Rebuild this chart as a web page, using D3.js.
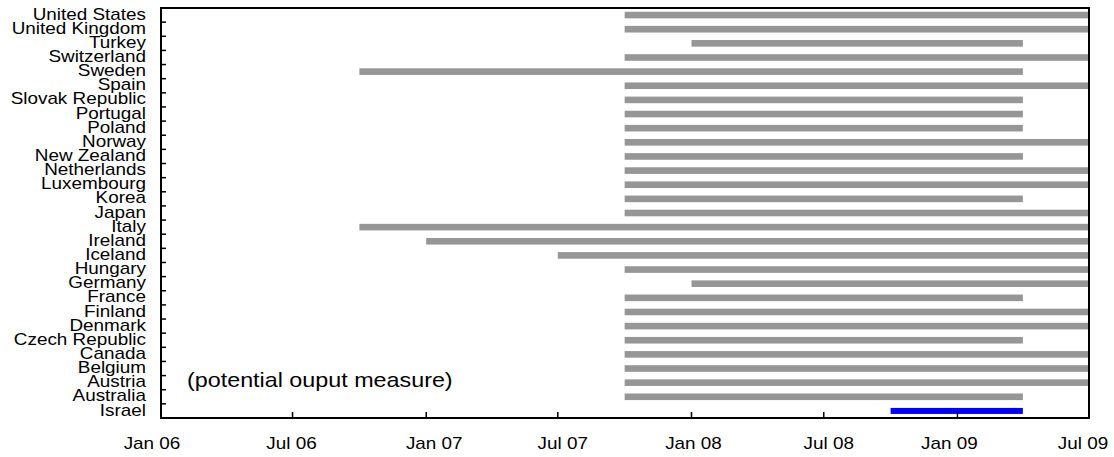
<!DOCTYPE html>
<html>
<head>
<meta charset="utf-8">
<script src="https://cdn.jsdelivr.net/npm/d3@7"></script>
<style>
  body { margin: 0; background: #fff; }
  text { font-family: "Liberation Sans", Arial, sans-serif; fill: #000; }
</style>
</head>
<body>
<svg id="chart" width="1114" height="457"></svg>
<script>
// countries top to bottom
var countries = ['United States', 'United Kingdom', 'Turkey', 'Switzerland', 'Sweden', 'Spain',
  'Slovak Republic', 'Portugal', 'Poland', 'Norway', 'New Zealand', 'Netherlands', 'Luxembourg',
  'Korea', 'Japan', 'Italy', 'Ireland', 'Iceland', 'Hungary', 'Germany', 'France', 'Finland',
  'Denmark', 'Czech Republic', 'Canada', 'Belgium', 'Austria', 'Australia', 'Israel']
var startDates = ['2007-10', '2007-10', '2008-01', '2007-10', '2006-10', '2007-10',
  '2007-10', '2007-10', '2007-10', '2007-10', '2007-10', '2007-10', '2007-10',
  '2007-10', '2007-10', '2006-10', '2007-01', '2007-07', '2007-10', '2008-01', '2007-10', '2007-10',
  '2007-10', '2007-10', '2007-10', '2007-10', '2007-10', '2007-10', '2008-10']
var endDates = ['2009-07', '2009-07', '2009-04', '2009-07', '2009-04', '2009-07',
  '2009-04', '2009-04', '2009-04', '2009-07', '2009-04', '2009-07', '2009-07',
  '2009-04', '2009-07', '2009-07', '2009-07', '2009-07', '2009-07', '2009-07', '2009-04', '2009-07',
  '2009-07', '2009-04', '2009-07', '2009-07', '2009-07', '2009-04', '2009-04']
var tickDates = ['2006-01', '2006-07', '2007-01', '2007-07', '2008-01', '2008-07', '2009-01', '2009-07']
var tickLabels = ['Jan 06', 'Jul 06', 'Jan 07', 'Jul 07', 'Jan 08', 'Jul 08', 'Jan 09', 'Jul 09']
var highlight = 'Israel'
var note = '(potential ouput measure)'

var colorBar = '#969696'
var colorHighlight = '#0000ff'
var fontSize = 17
var stretch = 1.11   // original text is drawn a little wide
// the original puts its date labels slightly off the ticks
var labelNudge = [-9, -1, 8, 5, 2, 5, -8, -6]

var parse = d3.timeParse('%Y-%m')
var margin = { top: 8, right: 25, bottom: 39, left: 161 }
var width = 1114, height = 457

var svg = d3.select('#chart')
var x = d3.scaleTime()
  .domain([parse('2006-01'), parse('2009-07')])
  .range([margin.left, width - margin.right])
var y = d3.scaleBand()
  .domain(countries)
  .range([margin.top, height - margin.bottom])
  .padding(0)

var rows = countries.map(function(c, i) {
  return { name: c, start: parse(startDates[i]), end: parse(endDates[i]) }
})

// bars
svg.append('g').selectAll('rect')
  .data(rows)
  .enter().append('rect')
  .attr('x', d => x(d.start))
  .attr('width', d => x(d.end) - x(d.start))
  .attr('y', d => y(d.name) + y.bandwidth() / 2 - (d.name == highlight ? 3 : 3.3))
  .attr('height', d => d.name == highlight ? 6 : 6.6)
  .attr('fill', d => d.name == highlight ? colorHighlight : colorBar)

// y axis: tick marks at band boundaries, pointing in
var yAxis = svg.append('g')
yAxis.selectAll('line')
  .data(countries.slice(1))
  .enter().append('line')
  .attr('x1', margin.left).attr('x2', margin.left + 5)
  .attr('y1', d => y(d)).attr('y2', d => y(d))
  .attr('stroke', '#000').attr('stroke-width', 1.5)
yAxis.selectAll('text')
  .data(countries)
  .enter().append('text')
  .attr('x', margin.left - 15)
  .attr('y', d => y(d) + y.bandwidth() / 2 + 4.6)
  .attr('text-anchor', 'end')
  .attr('font-size', fontSize)
  .text(d => d)

// x axis
var xAxis = svg.append('g')
xAxis.selectAll('line')
  .data(tickDates.slice(1, -1))
  .enter().append('line')
  .attr('x1', d => x(parse(d))).attr('x2', d => x(parse(d)))
  .attr('y1', height - margin.bottom).attr('y2', height - margin.bottom - 6)
  .attr('stroke', '#000').attr('stroke-width', 1.5)
xAxis.selectAll('text')
  .data(tickDates)
  .enter().append('text')
  .attr('x', (d, i) => x(parse(d)) + labelNudge[i])
  .attr('y', 448.5)
  .attr('text-anchor', 'middle')
  .attr('font-size', fontSize)
  .text((d, i) => tickLabels[i])

svg.append('text')
  .attr('x', 187).attr('y', y('Austria') + y.bandwidth() / 2 + 4.7)
  .attr('font-size', 21)
  .text(note)

// stretch text a bit wider like the original
svg.selectAll('text').each(function() {
  var len = this.getComputedTextLength()
  d3.select(this).attr('textLength', len * stretch).attr('lengthAdjust', 'spacingAndGlyphs')
})

// frame
svg.append('rect')
  .attr('x', margin.left).attr('y', margin.top)
  .attr('width', width - margin.left - margin.right)
  .attr('height', height - margin.top - margin.bottom)
  .attr('fill', 'none').attr('stroke', '#000').attr('stroke-width', 2)
</script>
</body>
</html>
